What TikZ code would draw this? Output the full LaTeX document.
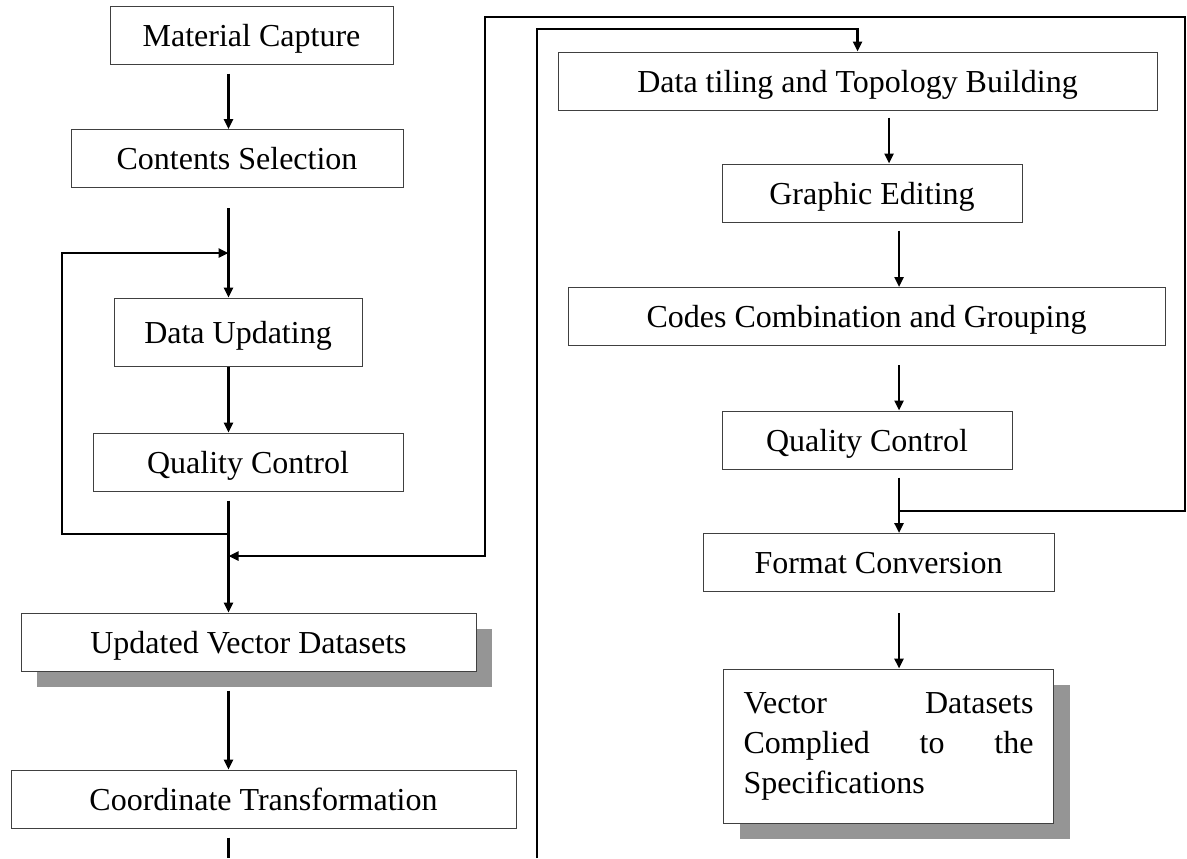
\documentclass[tikz,border=0pt]{standalone}
\usepackage{fontspec}
\setmainfont{Liberation Serif}
\usetikzlibrary{arrows.meta,shadows}
\definecolor{shgray}{HTML}{959595}
\tikzset{box/.style={draw=black!75,line width=0.5pt,fill=white,inner sep=0pt,minimum height=29pt,
			font=\fontsize{16pt}{20pt}\selectfont},
	onebox/.style={box,text height=13pt,text depth=2pt},
	shbox/.style={drop shadow={shadow xshift=8pt,shadow yshift=-8pt,fill=shgray,opacity=1}},
	ln/.style={line width=1.2pt},
	arr/.style={ln,-{Triangle[length=5pt,width=4.5pt]}}}

\begin{document}
\begin{tikzpicture}[x=0.5pt,y=-0.5pt]
				\useasboundingbox (0,0) rectangle (1187,858);
				% left column
				\node[onebox,minimum width=141.5pt] (mat) at (251.5,35) {Material Capture};
				\node[onebox,minimum width=166pt] (sel) at (237,158.5) {Contents Selection};
				\node[onebox,minimum width=124pt,minimum height=34pt] (du) at (238,332) {Data Updating};
				\node[onebox,minimum width=155pt] (qc) at (248,462) {Quality Control};
				\node[onebox,shbox,minimum width=227.5pt] (upd) at (248.5,642) {Updated Vector Datasets};
				\node[onebox,minimum width=252.5pt] (crd) at (263.5,799) {Coordinate Transformation};
				% right column
				\node[onebox,minimum width=299.5pt] (tile) at (857.5,81) {Data tiling and Topology Building};
				\node[onebox,minimum width=150pt] (gra) at (872,193) {Graphic Editing};
				\node[onebox,minimum width=298.5pt] (cod) at (866.5,316.5) {Codes Combination and Grouping};
				\node[onebox,minimum width=145pt] (qcr) at (867,440) {Quality Control};
				\node[onebox,minimum width=175.5pt] (fmt) at (878.5,562.5) {Format Conversion};
				\node[box,shbox,text width=145pt,inner xsep=10pt,minimum height=77pt,align=left] (vec) at (888.5,746)
					{Vector\hfill Datasets\\Complied\hfill to\hfill the\\Specifications};
				\coordinate (spine) at (228.5,0);
				\coordinate (spr) at (899,0);
				\coordinate (spt) at (889,0);
				\coordinate (fbA) at (228.5,534);
				\coordinate (fbB) at (62,253);
				\coordinate (rA) at (899,511);
				\coordinate (rB) at (1185,17);
				\coordinate (rC) at (485,556);
				\coordinate (lA) at (537,858);
				\coordinate (lB) at (857.5,29);
				% left flow
				\draw[arr,shorten <=4.5pt] (mat.south -| spine) -- (sel.north -| spine);
				\draw[arr,shorten <=10pt] (sel.south -| spine) -- (du.north -| spine);
				\draw[arr] (du.south -| spine) -- (qc.north -| spine);
				\draw[arr,shorten <=4.5pt] (qc.south -| spine) -- (upd.north -| spine);
				\draw[arr,shorten <=9.5pt] (upd.south -| spine) -- (crd.north -| spine);
				\draw[ln,shorten <=4.5pt] (crd.south -| spine) -- (spine |- lA);
				\draw[arr] (fbA) -| (fbB) -- (fbB -| spine);
				% right flow
				\draw[arr,shorten <=3.5pt] (tile.south -| spt) -- (gra.north -| spt);
				\draw[arr,shorten <=4pt] (gra.south -| spr) -- (cod.north -| spr);
				\draw[arr,shorten <=9.5pt] (cod.south -| spr) -- (qcr.north -| spr);
				\draw[arr,shorten <=4pt] (qcr.south -| spr) -- (fmt.north -| spr);
				\draw[arr,shorten <=10.5pt] (fmt.south -| spr) -- (vec.north -| spr);
				% loops
				\draw[arr] (rA) -| (rB) -| (rC) -- (rC -| spine);
				\draw[arr] (lA) |- (lB) -- (tile.north);
\end{tikzpicture}
\end{document}
